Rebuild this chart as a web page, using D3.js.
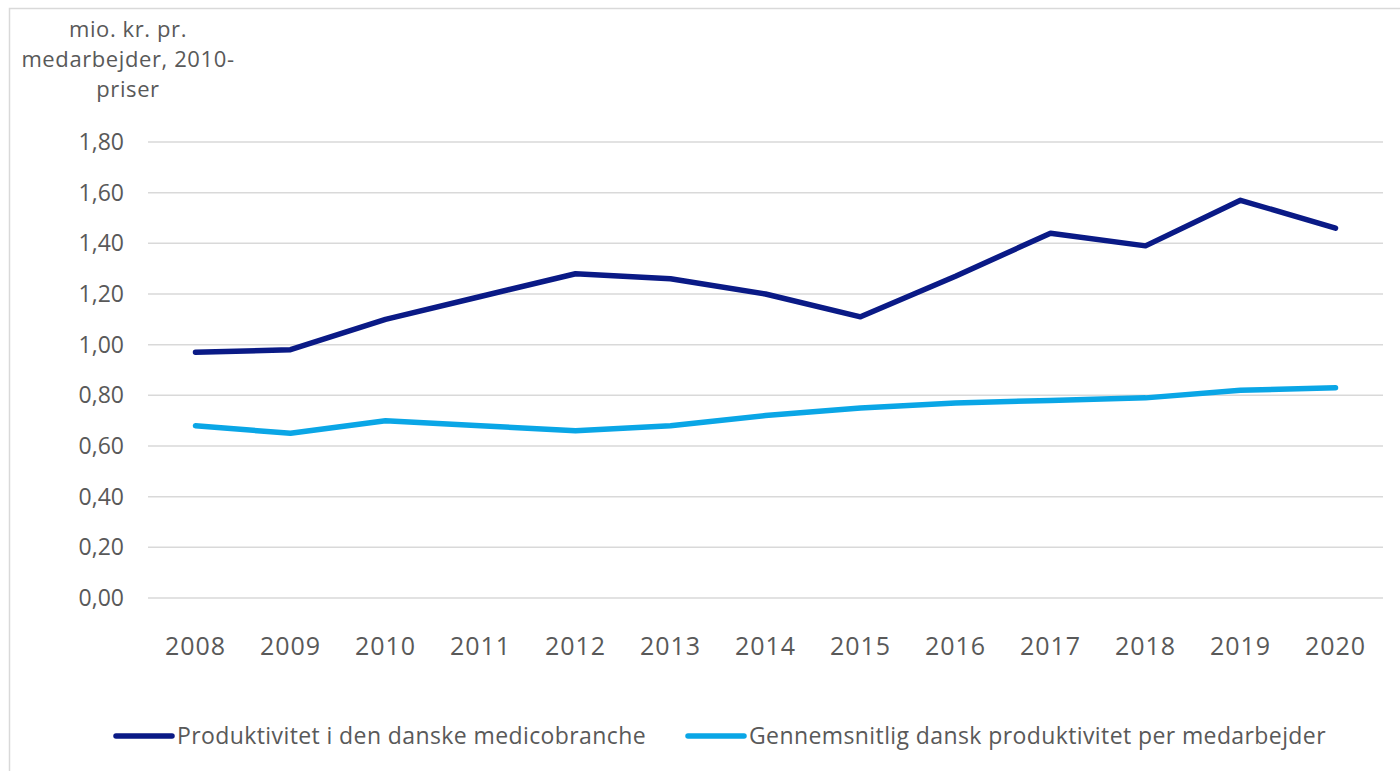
<!DOCTYPE html>
<html><head><meta charset="utf-8">
<script src="https://cdn.jsdelivr.net/npm/d3@7"></script>
<style>
html,body{margin:0;padding:0;background:#fff;}
svg{display:block;font-family:"Open Sans",sans-serif;}
</style></head>
<body>
<svg id="c" width="1400" height="771"></svg>
<script>
const years = ["2008","2009","2010","2011","2012","2013","2014","2015","2016","2017","2018","2019","2020"];
const medico = [0.97,0.98,1.10,1.19,1.28,1.26,1.20,1.11,1.27,1.44,1.39,1.57,1.46];
const average = [0.68,0.65,0.70,0.68,0.66,0.68,0.72,0.75,0.77,0.78,0.79,0.82,0.83];
const yTicks = [0,0.2,0.4,0.6,0.8,1.0,1.2,1.4,1.6,1.8];
const seriesNames = ["Produktivitet i den danske medicobranche","Gennemsnitlig dansk produktivitet per medarbejder"];
const colors = ["#0a1a86","#0aa6e6"];
const yLabel = ["mio. kr. pr.","medarbejder, 2010-","priser"];

const FONT = "'Open Sans',sans-serif";
const svg = d3.select("#c");
const textCol = "#595959";

// frame
svg.append("path").attr("d","M9.5,771 V8.5 H1400").attr("fill","none").attr("stroke","#d9d9d9").attr("stroke-width",1.5);

const x = d3.scaleBand().domain(years).range([148,1383]);
const y = d3.scaleLinear().domain([0,1.8]).range([598,142]);

// gridlines
svg.append("g").selectAll("line").data(yTicks).join("line")
  .attr("x1",148).attr("x2",1383)
  .attr("y1",d=>y(d)).attr("y2",d=>y(d))
  .attr("stroke","#d9d9d9").attr("stroke-width",1.5);

// y axis labels
const yAxis = d3.axisLeft(y).tickValues(yTicks).tickSize(0).tickPadding(0)
  .tickFormat(d=>d3.format(".2f")(d).replace(".",","));
const yg = svg.append("g").attr("transform","translate(124,0)").call(yAxis);
yg.select(".domain").remove();
yg.selectAll("text").attr("fill",textCol).style("font-size","23px").style("font-family",FONT);

// x axis labels
const xAxis = d3.axisBottom(x).tickSize(0).tickPadding(0);
const xg = svg.append("g").attr("transform","translate(0,637)").call(xAxis);
xg.select(".domain").remove();
xg.selectAll("text").attr("fill",textCol).style("font-size","25px").style("letter-spacing","1px").style("font-family",FONT);

// y label
svg.append("text").attr("x",128).attr("y",37).attr("text-anchor","middle")
  .attr("fill",textCol).style("font-size","22px").style("letter-spacing","0.6px").style("font-family",FONT)
  .selectAll("tspan").data(yLabel).join("tspan")
  .attr("x",128).attr("dy",(d,i)=>i===0?0:30).text(d=>d);

// lines
const line = d3.line().x((d,i)=>x(years[i])+x.bandwidth()/2).y(d=>y(d));
[medico,average].forEach((s,i)=>{
  svg.append("path").datum(s).attr("d",line).attr("fill","none")
    .attr("stroke",colors[i]).attr("stroke-width",5.5)
    .attr("stroke-linejoin","round").attr("stroke-linecap","round");
});

// legend
const legendX = [116,688];
const lg = svg.append("g").selectAll("g").data(seriesNames).join("g")
  .attr("transform",(d,i)=>`translate(${legendX[i]},736)`);
lg.append("line").attr("x1",0).attr("x2",56).attr("y1",0).attr("y2",0)
  .attr("stroke",(d,i)=>colors[i]).attr("stroke-width",5.5).attr("stroke-linecap","round");
lg.append("text").attr("x",61).attr("y",8).attr("fill",textCol).style("font-size","23px").style("letter-spacing","0.4px").style("font-family",FONT).text(d=>d);
</script>
</body></html>
